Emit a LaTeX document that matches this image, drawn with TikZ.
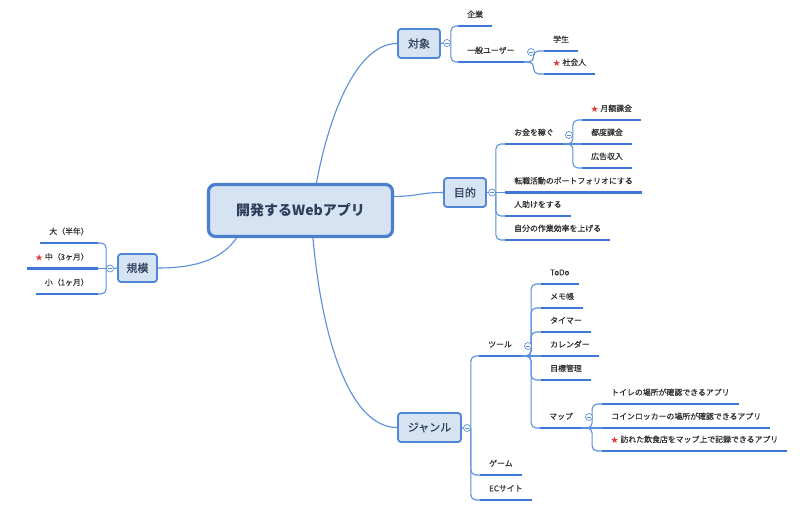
\documentclass[tikz,border=0pt]{standalone}
\usepackage{fontspec}
\setmainfont{Noto Sans CJK JP}
\newfontfamily\jpm{Noto Sans CJK JP}[FakeBold=0.35]
\pgfdeclarelayer{back}
\pgfdeclarelayer{bg}
\pgfsetlayers{back,bg,main}
\definecolor{nfill}{HTML}{D6E3F3}
\definecolor{nborder}{HTML}{4F86D6}
\definecolor{rborder}{HTML}{4A7FCF}
\definecolor{ublue}{HTML}{3D78D6}
\definecolor{cline}{HTML}{5A8FDB}
\definecolor{ttext}{HTML}{2C3E5A}
\definecolor{stext}{HTML}{2E2E2E}
\definecolor{starred}{HTML}{E53935}
\newcommand{\mystar}{{\color{starred}\scalebox{0.85}{★}}\hspace{2.5pt}}
\begin{document}
\begin{tikzpicture}[x=1pt,y=-1pt,
  conn/.style={draw=cline, line width=1.1pt},
  uline/.style={draw=ublue, line width=2.8pt},
  topic/.style={rectangle, rounded corners=3pt, fill=nfill, draw=nborder, line width=1.8pt,
    text=ttext, font=\jpm\fontsize{11}{12}\selectfont, inner sep=0pt},
  rootnode/.style={topic, rounded corners=7pt, draw=rborder, line width=3.2pt,
    font=\fontsize{14}{15}\selectfont\bfseries, minimum width=184pt, minimum height=52pt},
  sub/.style={font=\jpm\fontsize{7.9}{8}\selectfont, text=stext, inner xsep=9pt, inner ysep=0pt,
    text height=7pt, text depth=8.5pt, anchor=south west,
    append after command={(\tikzlastnode.south west) edge[uline] (\tikzlastnode.south east)}},
  subl/.style={sub, anchor=south east},
  coll/.style={circle, draw=cline, fill=white, line width=0.7pt, minimum size=7pt, inner sep=0pt,
    path picture={\draw[cline, line width=0.6pt] ([xshift=-2pt]path picture bounding box.center) -- ([xshift=2pt]path picture bounding box.center);}},
  rc/.style={rounded corners=5pt}
]
\begin{pgfonlayer}{back}
\fill[white] (0,0) rectangle (800,514);
\end{pgfonlayer}
\useasboundingbox (0,0) rectangle (800,514);

% main topics
\node[rootnode] (root) at (300.5,210.5) {開発するWebアプリ};
\node[topic, minimum width=42pt, minimum height=29pt] (taisho) at (419,43.5) {対象};
\node[topic, minimum width=42pt, minimum height=29pt] (mokuteki) at (465,192.5) {目的};
\node[topic, minimum width=39pt, minimum height=28pt] (kibo) at (137.5,268) {規模};
\node[topic, minimum width=63pt, minimum height=29pt] (genre) at (429.5,427.5) {ジャンル};

% collapse circles
\node[coll] (c1) at (447,43) {};
\node[coll] (c2) at (492,192.5) {};
\node[coll] (c3) at (110,268.5) {};
\node[coll] (c4) at (467,428) {};
\node[coll] (c5) at (531,52) {};
\node[coll] (c6) at (569,135) {};
\node[coll] (c7) at (528,346) {};
\node[coll] (c8) at (589,417) {};

% 対象
\node[sub] (kigyo) at (458,26) {企業};
\node[sub] (ippan) at (458,62) {一般ユーザー};
\node[sub] (gakusei) at (544,51) {学生};
\node[sub] (shakai) at (544,74) {\mystar 社会人};

% 目的
\node[sub] (okane) at (505,144) {お金を稼ぐ};
\node[sub] (getsu) at (582,120) {\mystar 月額課金};
\node[sub] (tsudo) at (582,144) {都度課金};
\node[sub] (koukoku) at (582,168) {広告収入};
\node[sub] (tenshoku) at (505,192.5) {転職活動のポートフォリオにする};
\node[sub] (hito) at (505,216) {人助けをする};
\node[sub] (jibun) at (505,240) {自分の作業効率を上げる};

% 規模
\node[subl] (dai) at (98,243) {大（半年）};
\node[subl] (chu) at (98,268.5) {\mystar 中（3ヶ月）};
\node[subl] (sho) at (98,294) {小（1ヶ月）};

% ジャンル
\node[sub] (tool) at (479,356) {ツール};
\node[sub] (todo) at (541,284) {ToDo};
\node[sub] (memo) at (541,308) {メモ帳};
\node[sub] (timer) at (541,332) {タイマー};
\node[sub] (cal) at (541,356) {カレンダー};
\node[sub] (goal) at (541,380) {目標管理};
\node[sub] (map) at (540,428) {マップ};
\node[sub] (toilet) at (602,404) {トイレの場所が確認できるアプリ};
\node[sub] (coin) at (602,428) {コインロッカーの場所が確認できるアプリ};
\node[sub] (visit) at (602,451) {\mystar 訪れた飲食店をマップ上で記録できるアプリ};
\node[sub] (game) at (480,475) {ゲーム};
\node[sub] (ec) at (480,500) {ECサイト};

\begin{pgfonlayer}{bg}
% root connectors
\draw[conn] ([xshift=16pt]root.north) .. controls (328,120) and (355,43.5) .. (taisho.west);
\draw[conn] ([yshift=14pt]root.east) .. controls (420,196) and (420,192.5) .. (mokuteki.west);
\draw[conn] ([xshift=12.5pt]root.south) .. controls (322,340) and (350,427.5) .. (genre.west);
\draw[conn] ([xshift=-64pt]root.south) .. controls (220,262) and (190,268) .. (kibo.east);

% topic to circle
\draw[conn] (taisho.east) -- (c1.west);
\draw[conn] (mokuteki.east) -- (c2.west);
\draw[conn] (kibo.west) -- (c3.east);
\draw[conn] (genre.east) -- (c4.west);

% 対象
\draw[conn, rc] (c1.east) |- (kigyo.south west);
\draw[conn, rc] (c1.east) |- (ippan.south west);
\draw[conn, rc] (ippan.south east) -- ++(10,0) |- (gakusei.south west);
\draw[conn, rc] (ippan.south east) -- ++(10,0) |- (shakai.south west);

% 目的
\draw[conn, rc] (c2.east) |- (okane.south west);
\draw[conn] (c2.east) -- (tenshoku.south west);
\draw[conn, rc] (c2.east) |- (hito.south west);
\draw[conn, rc] (c2.east) |- (jibun.south west);
\draw[conn, rc] (okane.south east) -- ++(10,0) |- (getsu.south west);
\draw[conn] (okane.south east) -- (tsudo.south west);
\draw[conn, rc] (okane.south east) -- ++(10,0) |- (koukoku.south west);

% 規模
\draw[conn, rc] (c3.west) |- (dai.south east);
\draw[conn] (c3.west) -- (chu.south east);
\draw[conn, rc] (c3.west) |- (sho.south east);

% ジャンル
\draw[conn, rc] (c4.east) |- (tool.south west);
\draw[conn, rc] (c4.east) |- (game.south west);
\draw[conn, rc] (c4.east) |- (ec.south west);
\draw[conn, rc] (tool.south east) -- ++(10,0) |- (todo.south west);
\draw[conn, rc] (tool.south east) -- ++(10,0) |- (memo.south west);
\draw[conn, rc] (tool.south east) -- ++(10,0) |- (timer.south west);
\draw[conn] (tool.south east) -- (cal.south west);
\draw[conn, rc] (tool.south east) -- ++(10,0) |- (goal.south west);
\draw[conn, rc] (tool.south east) -- ++(10,0) |- (map.south west);
\draw[conn, rc] (map.south east) -- ++(10,0) |- (toilet.south west);
\draw[conn] (map.south east) -- (coin.south west);
\draw[conn, rc] (map.south east) -- ++(10,0) |- (visit.south west);
\end{pgfonlayer}
\end{tikzpicture}
\end{document}
